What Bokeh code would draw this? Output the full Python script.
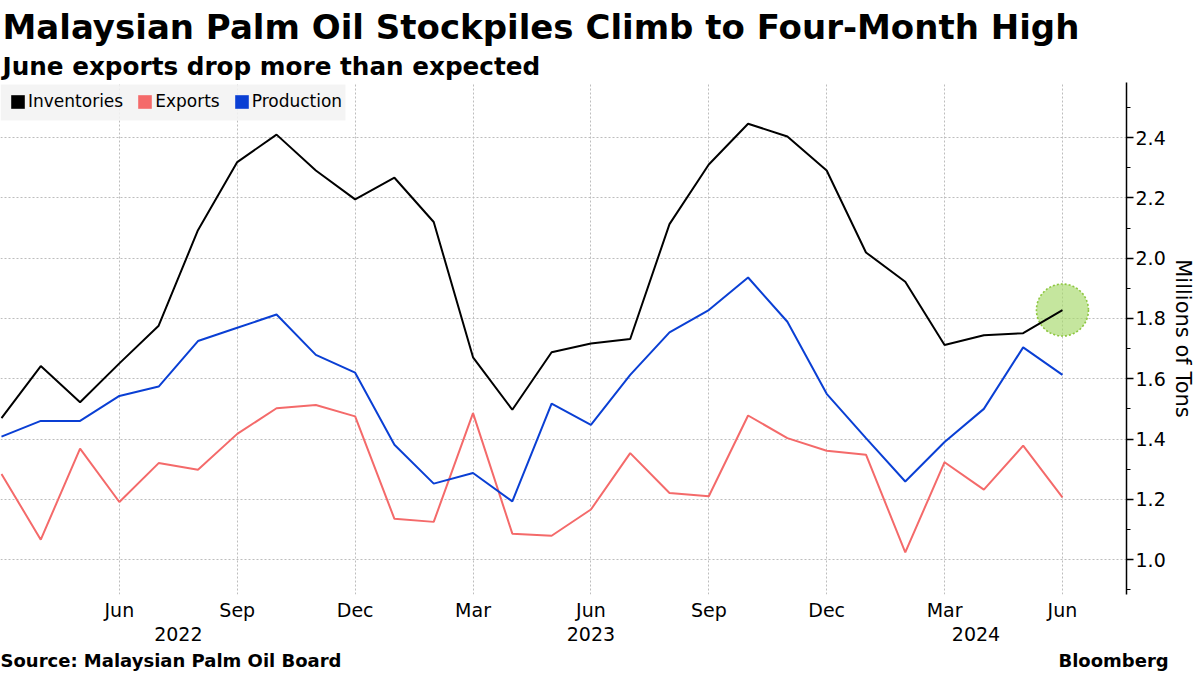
import pandas as pd
from bokeh.plotting import figure
from bokeh.models import (Range1d, FixedTicker, Legend, LegendItem, LinearAxis,
                          PrintfTickFormatter, Title, BoxAnnotation)
from bokeh.embed import file_html
from bokeh.resources import INLINE

# ---------------- data ----------------
months = [p.strftime("%Y-%m") for p in pd.period_range("2022-03", "2024-06", freq="M")]

inventories = [1.469, 1.642, 1.522, 1.651, 1.776, 2.093, 2.319, 2.410, 2.291, 2.195,
               2.267, 2.120, 1.671, 1.497, 1.688, 1.717, 1.732, 2.113, 2.311, 2.446,
               2.404, 2.291, 2.019, 1.922, 1.712, 1.744, 1.751, 1.828]
exports = [1.284, 1.066, 1.368, 1.191, 1.320, 1.298, 1.417, 1.502, 1.513, 1.475,
           1.135, 1.125, 1.486, 1.086, 1.079, 1.166, 1.353, 1.221, 1.210, 1.478,
           1.403, 1.361, 1.348, 1.024, 1.323, 1.232, 1.378, 1.206]
production = [1.408, 1.460, 1.460, 1.543, 1.574, 1.725, 1.769, 1.813, 1.679, 1.620,
              1.381, 1.252, 1.287, 1.193, 1.517, 1.447, 1.613, 1.754, 1.828, 1.936,
              1.789, 1.550, 1.403, 1.259, 1.390, 1.500, 1.704, 1.613]

tick_months = ["2022-06", "2022-09", "2022-12", "2023-03", "2023-06",
               "2023-09", "2023-12", "2024-03", "2024-06"]
tick_labels = ["Jun", "Sep", "Dec", "Mar", "Jun", "Sep", "Dec", "Mar", "Jun"]
year_labels = ["2022", "2023", "2024"]
y_ticks = [1.0, 1.2, 1.4, 1.6, 1.8, 2.0, 2.2, 2.4]

title = "Malaysian Palm Oil Stockpiles Climb to Four-Month High"
subtitle = "June exports drop more than expected"
source = "Source: Malaysian Palm Oil Board"
brand = "Bloomberg"

# ---------------- styling / geometry ----------------
FONT = "DejaVu Sans"
C_INV, C_EXP, C_PRO = "#000000", "#f46a6a", "#0a3fd4"
x_start, x_end = -0.025, 28.63
y_bot, y_top = 0.884, 2.583
FL, FR, FT, FB = 0, 1126, 82, 595   # frame edges in canvas pixels


def X(px):
    return x_start + (px - FL) * (x_end - x_start) / (FR - FL)


def Y(py):
    return y_top - (py - FT) * (y_top - y_bot) / (FB - FT)


x = list(range(len(months)))

p = figure(width=1198, height=673,
           x_range=Range1d(x_start, x_end), y_range=Range1d(y_bot, y_top),
           y_axis_location="right", output_backend="svg", toolbar_location=None,
           min_border_left=0, min_border_right=72, min_border_top=82,
           min_border_bottom=78)
p.outline_line_color = None
p.background_fill_color = "white"
p.border_fill_color = "white"

# titles (subtitle added first -> sits closest to the plot)
p.add_layout(Title(text=subtitle, align="left", offset=2, standoff=4,
                   text_font=FONT, text_font_size="24.7px", text_font_style="bold",
                   text_color="#000000"), "above")
p.add_layout(Title(text=title, align="left", offset=2, standoff=1,
                   text_font=FONT, text_font_size="34px", text_font_style="bold",
                   text_color="#000000"), "above")

# legend background panel
p.add_layout(BoxAnnotation(left=X(0), right=X(345), top=Y(84), bottom=Y(120),
                           fill_color="#f2f2f2", fill_alpha=0.88,
                           line_color=None, level="underlay"))

# highlight circle on the latest inventory reading
p.scatter([x[-1]], [inventories[-1]], size=52, marker="circle",
          fill_color="#a6d96a", fill_alpha=0.65,
          line_color="#8dc63f", line_dash="2 2", line_width=1.6)

p.line(x, exports, line_color=C_EXP, line_width=2)
p.line(x, production, line_color=C_PRO, line_width=2)
p.line(x, inventories, line_color=C_INV, line_width=2)

# legend proxies (square swatches, nothing drawn in the plot)
nan = float("nan")
proxies = [p.quad(left=[nan], right=[nan], top=[nan], bottom=[nan],
                  fill_color=c, line_color=None) for c in (C_INV, C_EXP, C_PRO)]
legend = Legend(items=[LegendItem(label=lab, renderers=[r]) for lab, r in
                       zip(["Inventories", "Exports", "Production"], proxies)],
                orientation="horizontal", location="top_left", margin=9,
                padding=0, spacing=13, glyph_width=17, glyph_height=17,
                label_standoff=2, label_height=20,
                label_text_font=FONT, label_text_font_size="17px",
                label_text_color="#000000",
                background_fill_alpha=0.0, border_line_color=None)
p.add_layout(legend)

# y axis (right)
yax = p.yaxis[0]
yax.ticker = FixedTicker(ticks=y_ticks,
                         minor_ticks=[round(0.9 + 0.2 * i, 1) for i in range(9)])
yax.formatter = PrintfTickFormatter(format="%.1f")
yax.axis_label = "Millions of Tons"
yax.axis_label_text_font = FONT
yax.axis_label_text_font_size = "21px"
yax.axis_label_text_font_style = "normal"
yax.axis_label_text_color = "#000000"
yax.axis_label_standoff = 2
yax.major_label_text_font = FONT
yax.major_label_text_font_size = "19px"
yax.major_label_text_color = "#000000"
yax.major_label_standoff = 2
yax.axis_line_color = "#000000"
yax.axis_line_width = 1.5
yax.major_tick_in = 0
yax.major_tick_out = 7
yax.major_tick_line_color = "#000000"
yax.major_tick_line_width = 1.5
yax.minor_tick_in = 0
yax.minor_tick_out = 4
yax.minor_tick_line_color = "#000000"


def plain_axis(ax, size, standoff, bold=False):
    ax.axis_line_color = None
    ax.major_tick_line_color = None
    ax.minor_tick_line_color = None
    ax.major_tick_in = 0
    ax.major_tick_out = 0
    ax.minor_tick_in = 0
    ax.minor_tick_out = 0
    ax.major_label_standoff = standoff
    ax.major_label_text_font = FONT
    ax.major_label_text_font_size = size
    ax.major_label_text_color = "#000000"
    if bold:
        ax.major_label_text_font_style = "bold"


# x axis: months
xax = p.xaxis[0]
tick_idx = [months.index(m) for m in tick_months]
xax.ticker = FixedTicker(ticks=tick_idx)
xax.major_label_overrides = {i: lab for i, lab in zip(tick_idx, tick_labels)}
plain_axis(xax, "19px", 4)

# second row: years
year_pos = [4.5, 15.0, 24.8]
yr_ax = LinearAxis(ticker=FixedTicker(ticks=year_pos),
                   major_label_overrides={v: lab for v, lab in zip(year_pos, year_labels)})
plain_axis(yr_ax, "19px", 3)
p.add_layout(yr_ax, "below")

# third row: footer (source left, brand right)
foot_pos = [4.2, 28.3]
ft_ax = LinearAxis(ticker=FixedTicker(ticks=foot_pos),
                   major_label_overrides={foot_pos[0]: source, foot_pos[1]: brand})
plain_axis(ft_ax, "18px", 6, bold=True)
p.add_layout(ft_ax, "below")

# grids
p.xgrid[0].ticker = xax.ticker
for g in (p.xgrid[0], p.ygrid[0]):
    g.grid_line_color = "#bdbdbd"
    g.grid_line_dash = "2 2"
    g.grid_line_width = 1

open("out.html", "w").write(file_html(p, INLINE))
